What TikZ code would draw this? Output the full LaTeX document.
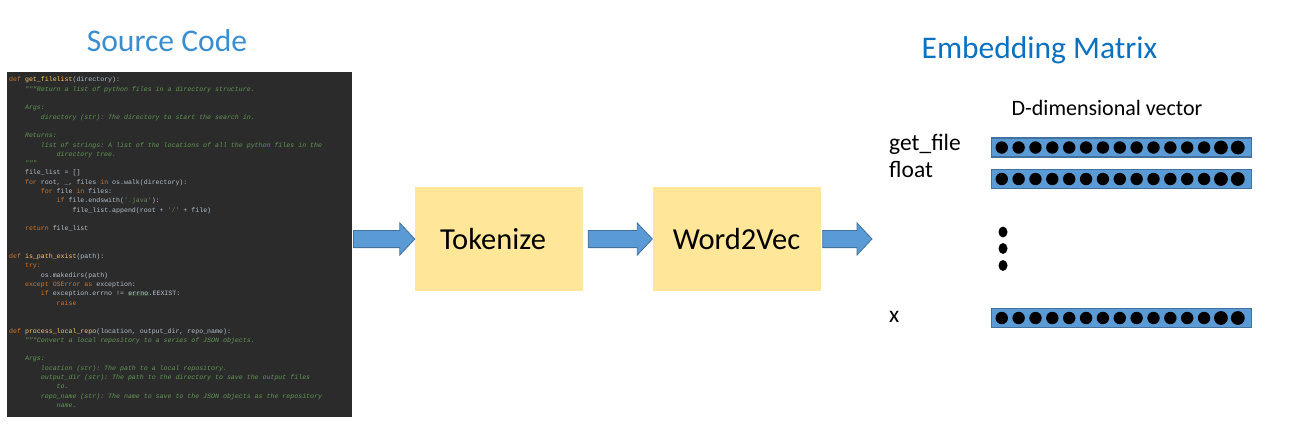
\documentclass[tikz,border=0pt]{standalone}
\usepackage{fontspec}
\setmainfont{Carlito}
\setmonofont{Liberation Mono}
\usetikzlibrary{calc}
\definecolor{panelbg}{HTML}{2B2B2B}
\definecolor{codefg}{HTML}{B4C0CC}
\definecolor{kwc}{HTML}{CC7832}
\definecolor{fnc}{HTML}{FFC66D}
\definecolor{docc}{HTML}{629755}
\definecolor{strc}{HTML}{6A8759}
\definecolor{hlc}{HTML}{344134}
\definecolor{titlea}{HTML}{3A8ED0}
\definecolor{titleb}{HTML}{0A70C0}
\definecolor{boxc}{HTML}{FFE699}
\definecolor{arrowfill}{HTML}{5B9BD5}
\definecolor{arrowline}{HTML}{41719C}
\newcommand\ckw[1]{\textcolor{kwc}{#1}}
\newcommand\cfn[1]{\textcolor{fnc}{#1}}
\newcommand\cdoc[1]{\textcolor{docc}{\itshape #1}}
\newcommand\cstr[1]{\textcolor{strc}{#1}}
\newcommand\chl[1]{{\setlength\fboxsep{0.4pt}\colorbox{hlc}{#1}}}
\newcommand\indt{\phantom{xxxx}}
\newcommand\fatarrow[2]{\filldraw[fat] let \p1=(#1), \p2=(#2) in
	(\x1,{\y2+8.6pt}) -- ({\x2-15pt},{\y2+8.6pt}) -- ({\x2-15pt},{\y2+16pt}) -- (\x2,\y2)
	-- ({\x2-15pt},{\y2-16pt}) -- ({\x2-15pt},{\y2-8.6pt}) -- (\x1,{\y2-8.6pt}) -- cycle;}
\tikzstyle{fat} = [fill=arrowfill,draw=arrowline,line width=0.8pt]
\tikzstyle{stage} = [fill=boxc,minimum width=168pt,minimum height=104pt,inner sep=0pt,font=\fontsize{30.5}{36}\selectfont]
\tikzstyle{vec} = [fill=arrowfill,draw=arrowline,line width=1.5pt,minimum width=260pt,minimum height=19pt,inner sep=0pt]
\tikzstyle{word} = [anchor=base west,inner sep=0pt,font=\fontsize{23.5}{28}\selectfont]

\begin{document}
\begin{tikzpicture}[x=1pt,y=-1pt]
\useasboundingbox (0,0) rectangle (1297,429);

% source code panel
\node[fill=panelbg,minimum width=345pt,minimum height=345pt,inner sep=0pt,anchor=north west] (panel) at (7,72) {};
\node[anchor=north west,inner sep=0pt,align=left,text=codefg,font=\ttfamily\fontsize{6.6}{9.3}\selectfont\frenchspacing] (code) at (9,77) {%
\ckw{def} \cfn{get\_filelist}(directory):\\
\indt\cdoc{"""Return a list of python files in a directory structure.}\\
\mbox{}\\
\indt\cdoc{Args:}\\
\indt\indt\cdoc{directory (str): The directory to start the search in.}\\
\mbox{}\\
\indt\cdoc{Returns:}\\
\indt\indt\cdoc{list of strings: A list of the locations of all the python files in the}\\
\indt\indt\indt\cdoc{directory tree.}\\
\indt\cdoc{"""}\\
\indt file\_list = []\\
\indt\ckw{for} root, \_, files \ckw{in} os.walk(directory):\\
\indt\indt\ckw{for} file \ckw{in} files:\\
\indt\indt\indt\ckw{if} file.endswith(\cstr{'.java'}):\\
\indt\indt\indt\indt file\_list.append(root + \cstr{'/'} + file)\\
\mbox{}\\
\indt\ckw{return} file\_list\\
\mbox{}\\
\mbox{}\\
\ckw{def} \cfn{is\_path\_exist}(path):\\
\indt\ckw{try:}\\
\indt\indt os.makedirs(path)\\
\indt\ckw{except} \ckw{OSError} \ckw{as} exception:\\
\indt\indt\ckw{if} exception.errno != \chl{errno}.EEXIST:\\
\indt\indt\indt\ckw{raise}\\
\mbox{}\\
\mbox{}\\
\ckw{def} \cfn{process\_local\_repo}(location, output\_dir, repo\_name):\\
\indt\cdoc{"""Convert a local repository to a series of JSON objects.}\\
\mbox{}\\
\indt\cdoc{Args:}\\
\indt\indt\cdoc{location (str): The path to a local repository.}\\
\indt\indt\cdoc{output\_dir (str): The path to the directory to save the output files}\\
\indt\indt\indt\cdoc{to.}\\
\indt\indt\cdoc{repo\_name (str): The name to save to the JSON objects as the repository}\\
\indt\indt\indt\cdoc{name.}};

% titles
\node[anchor=base,inner sep=0pt,text=titlea,font=\fontsize{31.6}{36}\selectfont] (srctitle) at (167,51) {Source Code};
\node[anchor=base,inner sep=0pt,text=titleb,font=\fontsize{31.5}{36}\selectfont] (mattitle) at (1039.5,58.5) {Embedding Matrix};

% pipeline
\node[stage] (tok) at (499,239) {\hspace*{-12pt}Tokenize};
\node[stage] (w2v) at (736.5,239) {Word2Vec};
\coordinate (mat) at (872,239);

\fatarrow{[xshift=1pt]panel.east |- tok.west}{tok.west}
\fatarrow{[xshift=5pt]tok.east}{w2v.west}
\fatarrow{[xshift=2pt]w2v.east}{mat}

% embedding vectors
\node[anchor=base,inner sep=0pt,font=\fontsize{22}{26}\selectfont] (dimlabel) at (1107,115) {D-dimensional vector};
\node[vec] (v1) at (1121.5,147.5) {};
\node[vec] (v2) at (1121.5,179) {};
\node[vec] (v3) at (1121.5,318) {};
\node[word] (w1) at (889,150) {get\_file};
\node[word] (w2) at (889,177.5) {float};
\node[word] (w3) at (889,322.5) {x};

\foreach \b in {v1,v2,v3}
	\foreach \k in {0,...,14} {
		\pgfmathsetmacro\r{\k<13 ? 6.2 : 6.9}
		\fill ([xshift=11pt+16.86pt*\k]\b.west) circle[radius=\r pt];
	}

\foreach \y in {232,248.5,265.5}
	\fill (1003,\y) ellipse[x radius=4.5pt,y radius=5.4pt];

\end{tikzpicture}
\end{document}
